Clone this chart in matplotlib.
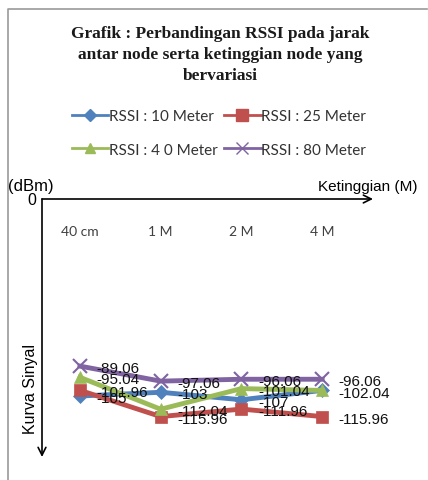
import matplotlib.pyplot as plt
from matplotlib.lines import Line2D

# Heights of the nodes (categories) and RSSI values per distance
heights = ["40 cm", "1 M", "2 M", "4 M"]
rssi_10m = [-105, -103, -107, -102]
rssi_25m = [-101.96, -115.96, -111.96, -115.96]
rssi_40m = [-95.04, -112.04, -101.04, -102.04]
rssi_80m = [-89.06, -97.06, -96.06, -96.06]

labels_10m = ["-105", "-103", "-107", ""]
series_names = ["RSSI : 10 Meter", "RSSI : 25 Meter", "RSSI : 4 0 Meter", "RSSI : 80 Meter"]

colors = ["#4F81BD", "#C0504D", "#9BBB59", "#8064A2"]
markers = ["D", "s", "^", "x"]
msizes = [7, 9, 8, 10]

W, H = 428, 481
fig = plt.figure(figsize=(W / 100, H / 100), dpi=100)

# outer chart frame (only left and top edges are visible)
fig.add_artist(Line2D([8 / W, 8 / W, 427 / W], [0, 1 - 10 / H, 1 - 10 / H],
                      transform=fig.transFigure, color="#9a9a9a", linewidth=1.2))

fig.text(220 / W, 1 - 55 / H,
         "Grafik : Perbandingan RSSI pada jarak\nantar node serta ketinggian node yang\nbervariasi",
         ha="center", va="center", family="Liberation Serif", fontweight="bold",
         fontsize=12.5, linespacing=1.42, color="#1a1a1a")

ax = fig.add_axes([42 / W, 1 - 458 / H, 331 / W, 258 / H])
ax.set_xlim(-0.47, 3.63)
ax.set_ylim(-137.5, 0)
ax.axis("off")

x = list(range(len(heights)))
all_series = [rssi_10m, rssi_25m, rssi_40m, rssi_80m]
handles = []
for vals, c, m, ms, name in zip(all_series, colors, markers, msizes, series_names):
    ax.plot(x, vals, color=c, linewidth=3.5, marker=m, markersize=ms,
            markeredgewidth=1.5 if m == "x" else 0.5, markeredgecolor=c, clip_on=False)
    handles.append(Line2D([], [], color=c, linewidth=2, marker=m,
                          markersize=ms - 1, markeredgecolor=c, label=name))

# data labels
label_sets = [labels_10m,
              ["%g" % v for v in rssi_25m],
              ["%g" % v for v in rssi_40m],
              ["%g" % v for v in rssi_80m]]
for vals, labs in zip(all_series, label_sets):
    for xi, v, lab in zip(x, vals, labs):
        if lab:
            ax.annotate(lab, (xi, v), xytext=(12, -1.5), textcoords="offset points",
                        ha="left", va="center", fontsize=11,
                        family="Liberation Sans", color="#111111",
                        annotation_clip=False)

# category labels under the x axis
for xi, h in zip(x, heights):
    ax.text(xi, -17, h, ha="center", va="center", fontsize=10,
            family="Lato", color="#404040")

# axes drawn as arrows
ax.annotate("", xy=(1, 1), xytext=(0, 1), xycoords="axes fraction",
            arrowprops=dict(arrowstyle="->", color="black", lw=1.2,
                            mutation_scale=14, shrinkA=0, shrinkB=0))
ax.annotate("", xy=(0, 0), xytext=(0, 1), xycoords="axes fraction",
            arrowprops=dict(arrowstyle="->", color="black", lw=1.2,
                            mutation_scale=14, shrinkA=0, shrinkB=0))

fig.text(8 / W, 1 - 186 / H, "(dBm)", ha="left", va="center",
         family="Liberation Sans", fontsize=12)
fig.text(417 / W, 1 - 187 / H, "Ketinggian (M)", ha="right", va="center",
         family="Liberation Sans", fontsize=11)
fig.text(32 / W, 1 - 201 / H, "0", ha="center", va="center",
         family="Liberation Sans", fontsize=11.5)
fig.text(31 / W, 1 - 389 / H, "Kurva Sinyal", ha="center", va="center",
         rotation=90, family="Liberation Sans", fontsize=11.5)

# legend: rows [10, 25] and [40, 80]
order = [0, 2, 1, 3]
fig.legend([handles[i] for i in order], [series_names[i] for i in order],
           ncol=2, loc="center", bbox_to_anchor=(219 / W, 1 - 134 / H),
           frameon=False, prop={"family": "Lato", "size": 11},
           handlelength=2.4, handletextpad=0.05, columnspacing=0.4,
           labelspacing=1.25, labelcolor="#333333")

fig.savefig("out.png", dpi=100)
